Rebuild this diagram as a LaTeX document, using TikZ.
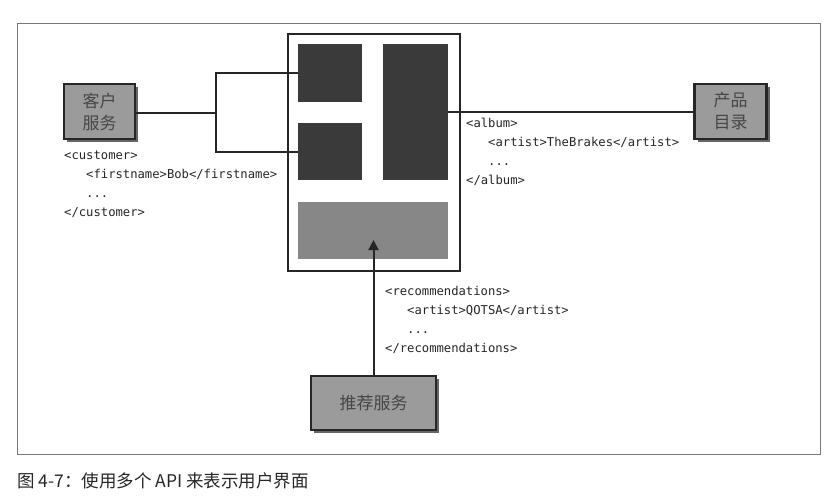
\documentclass[tikz,border=0pt]{standalone}
\usepackage{fontspec}
\setmonofont{DejaVu Sans Mono}
\newfontfamily\cjk{Noto Sans CJK SC}
\usetikzlibrary{arrows.meta,shadows}
\definecolor{boxfill}{RGB}{155,155,155}
\definecolor{boxtext}{RGB}{70,70,70}
\definecolor{darkpanel}{RGB}{58,58,58}
\definecolor{greypanel}{RGB}{135,135,135}
\definecolor{framegray}{RGB}{120,120,120}
\tikzset{
  svc/.style={draw=black!85, line width=2.2pt, fill=boxfill, text=boxtext,
    font=\cjk\fontsize{17}{22}\selectfont, align=center, inner sep=0pt,
    drop shadow={shadow xshift=3pt, shadow yshift=-3pt, opacity=0.6, fill=black}},
  panel/.style={fill=darkpanel, draw=none, inner sep=0pt},
  gpanel/.style={fill=greypanel, draw=none, inner sep=0pt},
  conn/.style={draw=black!85, line width=2pt},
  code/.style={font=\ttfamily\fontsize{12.2}{19}\selectfont, text=black!85, align=left, anchor=north west, inner sep=0pt}
}
\newcommand{\ind}{\phantom{xxx}}
\begin{document}
\begin{tikzpicture}[x=1pt,y=-1pt]
\useasboundingbox (0,0) rectangle (838,499);
% outer frame
\node[draw=framegray, line width=0.7pt, minimum width=803pt, minimum height=431pt, inner sep=0pt, anchor=north west] (frame) at (17,23) {};
% UI box
\node[draw=black!85, line width=2pt, minimum width=172pt, minimum height=237pt, inner sep=0pt, anchor=north west] (ui) at (287,33) {};
\node[panel, minimum width=64pt, minimum height=58pt, anchor=north west] (tl) at (298,44) {};
\node[panel, minimum width=64pt, minimum height=57pt, anchor=north west] (ml) at (298,123) {};
\node[panel, minimum width=65pt, minimum height=136pt, anchor=north west] (tr) at (383,44) {};
\node[gpanel, minimum width=150pt, minimum height=57pt, anchor=north west] (bot) at (298,202) {};
% services
\node[svc, minimum width=71pt, minimum height=55pt] (cust) at (99.5,111.5) {客户\\服务};
\node[svc, minimum width=72pt, minimum height=55pt] (prod) at (730.5,111.5) {产品\\目录};
\node[svc, minimum width=125pt, minimum height=54pt] (rec) at (373.5,403) {推荐服务};
% connectors
\coordinate (j) at (216,113);
\draw[conn] (cust.east |- j) -- (j);
\draw[conn] (tl.west) -| (j) |- (ml.west);
\draw[conn] (prod.west) -- (prod.west -| tr.east);
\coordinate (tip) at (373.5,240);
\draw[conn, -{Triangle[length=10pt,width=10pt]}] (rec.north) -- (tip);
% code
\node[code] (ccode) at (64,151) {<customer>\\\ind<firstname>Bob</firstname>\\\ind...\\</customer>};
\node[code] (acode) at (466,118) {<album>\\\ind<artist>TheBrakes</artist>\\\ind...\\</album>};
\node[code] (rcode) at (385,286) {<recommendations>\\\ind<artist>QOTSA</artist>\\\ind...\\</recommendations>};
% caption
\node[anchor=west, inner sep=0pt, font=\cjk\fontsize{17.5}{20}\selectfont, text=black!85] (cap) at (17,481) {图 4-7：使用多个 API 来表示用户界面};
\end{tikzpicture}
\end{document}
